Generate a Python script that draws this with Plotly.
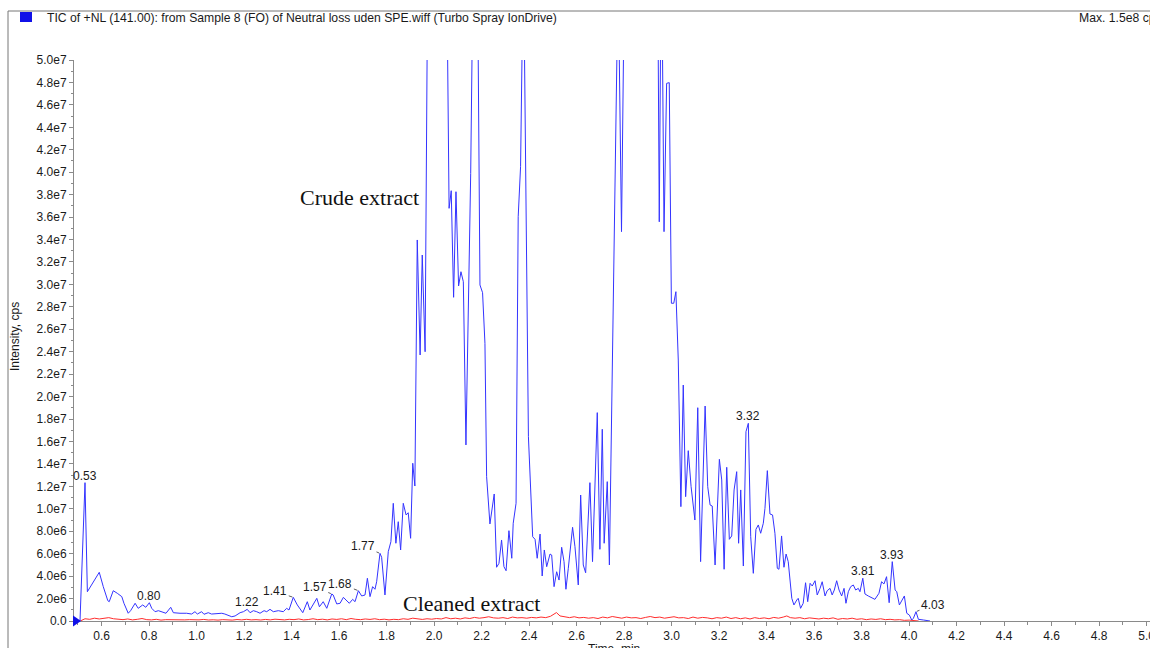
import plotly.graph_objects as go

# ---------------- data (intensity in units of 1e6 cps) ----------------
blue_time = [
    0.509, 0.530, 0.540, 0.590, 0.607, 0.626, 0.632, 0.649, 0.666, 0.685,
    0.694, 0.712, 0.722, 0.741, 0.754, 0.773, 0.786, 0.801, 0.811, 0.825,
    0.839, 0.853, 0.871, 0.891, 0.902, 0.930, 0.958, 0.979, 0.993, 1.003,
    1.021, 1.031, 1.049, 1.063, 1.085, 1.106, 1.119, 1.133, 1.148, 1.162,
    1.183, 1.197, 1.213, 1.225, 1.239, 1.253, 1.267, 1.284, 1.295, 1.309,
    1.323, 1.344, 1.365, 1.379, 1.389, 1.407, 1.424, 1.447, 1.466, 1.477,
    1.491, 1.506, 1.517, 1.533, 1.548, 1.569, 1.575, 1.590, 1.604, 1.618,
    1.629, 1.643, 1.657, 1.667, 1.681, 1.695, 1.709, 1.719, 1.730, 1.741,
    1.751, 1.758, 1.772, 1.779, 1.793, 1.807, 1.818, 1.828, 1.839, 1.849,
    1.859, 1.870, 1.882, 1.891, 1.901, 1.910, 1.919, 1.929, 1.941, 1.950,
    1.962, 1.980, 1.995, 2.010, 2.025, 2.040, 2.051, 2.063, 2.072, 2.082,
    2.092, 2.103, 2.113, 2.123, 2.134, 2.144, 2.154, 2.170, 2.180, 2.193,
    2.204, 2.214, 2.221, 2.235, 2.253, 2.263, 2.273, 2.284, 2.294, 2.303,
    2.315, 2.327, 2.333, 2.345, 2.354, 2.364, 2.376, 2.397, 2.415, 2.425,
    2.434, 2.446, 2.455, 2.464, 2.474, 2.488, 2.495, 2.505, 2.516, 2.526,
    2.537, 2.547, 2.555, 2.565, 2.583, 2.593, 2.607, 2.617, 2.628, 2.638,
    2.656, 2.667, 2.687, 2.698, 2.708, 2.716, 2.729, 2.738, 2.775, 2.789,
    2.800, 2.820, 2.850, 2.870, 2.890, 2.905, 2.920, 2.935, 2.948, 2.957,
    2.968, 2.979, 2.990, 2.999, 3.009, 3.018, 3.028, 3.039, 3.049, 3.059,
    3.070, 3.082, 3.098, 3.110, 3.122, 3.141, 3.152, 3.162, 3.171, 3.183,
    3.201, 3.211, 3.221, 3.232, 3.243, 3.253, 3.263, 3.274, 3.282, 3.291,
    3.302, 3.313, 3.323, 3.333, 3.344, 3.355, 3.365, 3.375, 3.386, 3.393,
    3.403, 3.414, 3.425, 3.435, 3.445, 3.452, 3.463, 3.473, 3.482, 3.491,
    3.506, 3.515, 3.527, 3.533, 3.543, 3.554, 3.564, 3.573, 3.583, 3.592,
    3.604, 3.613, 3.625, 3.634, 3.646, 3.655, 3.667, 3.676, 3.685, 3.695,
    3.705, 3.716, 3.726, 3.734, 3.744, 3.754, 3.765, 3.775, 3.786, 3.793,
    3.805, 3.814, 3.828, 3.842, 3.856, 3.873, 3.884, 3.894, 3.905, 3.916,
    3.929, 3.941, 3.948, 3.959, 3.969, 3.980, 3.990, 4.001, 4.011, 4.018,
    4.029, 4.039, 4.060, 4.088,
]
blue_int = [
    0.00, 12.33, 2.61, 4.34, 3.06, 1.81, 1.72, 2.70, 2.47, 2.17,
    1.58, 0.69, 0.92, 1.58, 1.13, 1.43, 1.22, 1.63, 1.13, 0.83,
    0.92, 0.83, 0.69, 1.22, 0.74, 0.69, 0.69, 0.62, 0.83, 0.62,
    0.83, 0.60, 0.74, 0.62, 0.69, 0.69, 0.62, 0.47, 0.38, 0.45,
    0.74, 0.83, 1.04, 0.74, 0.92, 0.83, 0.69, 0.92, 0.83, 1.04,
    0.83, 0.92, 0.83, 1.13, 0.98, 2.11, 1.43, 0.74, 1.72, 0.98,
    1.43, 2.02, 1.27, 1.72, 1.13, 2.41, 2.32, 1.52, 1.58, 2.11,
    1.87, 1.58, 1.93, 1.72, 2.70, 2.23, 2.32, 3.81, 2.17, 3.06,
    2.83, 3.50, 6.03, 5.68, 2.32, 6.18, 7.07, 10.49, 6.93, 8.85,
    6.33, 10.49, 9.45, 9.65, 7.37, 14.06, 12.03, 33.96, 23.71, 32.62,
    24.00, 80.0, 105.0, 95.0, 88.0, 70.0, 63.4, 36.78, 38.35, 28.85,
    38.26, 29.86, 31.13, 30.24, 15.69, 28.90, 39.90, 70.0, 66.0, 29.95,
    29.26, 24.75, 12.86, 8.65, 11.32, 4.79, 5.14, 7.22, 4.84, 4.48,
    8.05, 5.59, 8.71, 10.49, 36.03, 40.49, 60.0, 16.43, 7.51, 7.28,
    5.59, 7.75, 4.01, 6.33, 4.84, 5.97, 5.88, 3.06, 4.39, 3.65,
    6.57, 5.29, 2.83, 4.70, 8.35, 6.62, 3.21, 11.23, 4.99, 4.30,
    12.33, 5.29, 18.57, 6.39, 17.09, 6.93, 12.42, 4.99, 58.0, 34.70,
    90.0, 120.0, 150.0, 135.0, 110.0, 95.0, 82.0, 80.0, 35.58, 62.0,
    34.70, 47.92, 47.98, 28.32, 28.32, 29.35, 23.26, 10.19, 21.03, 11.08,
    15.18, 11.97, 9.00, 19.01, 5.29, 19.16, 11.97, 10.34, 10.25, 4.99,
    14.41, 12.57, 4.61, 13.70, 7.28, 7.58, 11.68, 13.31, 6.93, 11.68,
    4.90, 16.87, 17.62, 7.51, 4.25, 8.17, 8.56, 7.82, 8.71, 10.04,
    13.40, 9.54, 9.45, 7.82, 4.70, 4.61, 7.58, 4.79, 5.97, 5.29,
    2.02, 1.43, 1.87, 2.02, 1.13, 1.58, 3.41, 1.72, 3.36, 3.12,
    3.59, 2.32, 2.91, 3.50, 2.23, 2.70, 2.91, 2.32, 2.76, 3.59,
    2.76, 2.23, 2.91, 1.58, 2.61, 3.06, 3.21, 2.76, 2.91, 2.61,
    3.81, 2.41, 2.23, 2.11, 1.93, 2.47, 3.50, 3.30, 3.95, 1.63,
    5.29, 2.76, 2.61, 1.43, 1.81, 2.23, 0.69, 0.53, 0.09, 0.24,
    0.83, 0.15, 0.09, 0.00,
]

red_time = [
    0.51, 0.53, 0.55, 0.57, 0.59, 0.61, 0.63, 0.65, 0.67, 0.69,
    0.71, 0.73, 0.75, 0.77, 0.79, 0.81, 0.83, 0.85, 0.87, 0.89,
    0.91, 0.93, 0.95, 0.97, 0.99, 1.01, 1.03, 1.05, 1.07, 1.09,
    1.11, 1.13, 1.15, 1.17, 1.19, 1.21, 1.23, 1.25, 1.27, 1.29,
    1.31, 1.33, 1.35, 1.37, 1.39, 1.41, 1.43, 1.45, 1.47, 1.49,
    1.51, 1.53, 1.55, 1.57, 1.59, 1.61, 1.63, 1.65, 1.67, 1.69,
    1.71, 1.73, 1.75, 1.77, 1.79, 1.81, 1.83, 1.85, 1.87, 1.89,
    1.91, 1.93, 1.95, 1.97, 1.99, 2.01, 2.03, 2.05, 2.07, 2.09,
    2.11, 2.13, 2.15, 2.17, 2.19, 2.21, 2.23, 2.25, 2.27, 2.29,
    2.31, 2.33, 2.35, 2.37, 2.39, 2.41, 2.43, 2.45, 2.47, 2.49,
    2.50, 2.515, 2.53, 2.55, 2.57, 2.59, 2.61, 2.63, 2.65, 2.67,
    2.69, 2.71, 2.73, 2.75, 2.77, 2.79, 2.81, 2.83, 2.85, 2.87,
    2.89, 2.91, 2.93, 2.95, 2.97, 2.99, 3.01, 3.03, 3.05, 3.07,
    3.09, 3.11, 3.13, 3.15, 3.17, 3.19, 3.21, 3.23, 3.25, 3.27,
    3.29, 3.31, 3.33, 3.35, 3.37, 3.39, 3.41, 3.43, 3.45, 3.47,
    3.485, 3.50, 3.52, 3.54, 3.56, 3.58, 3.60, 3.62, 3.64, 3.66,
    3.68, 3.70, 3.72, 3.74, 3.76, 3.78, 3.80, 3.82, 3.84, 3.86,
    3.88, 3.90, 3.92, 3.94, 3.96, 3.98, 4.00, 4.02, 4.04,
]
red_int = [
    0.00, 0.20, 0.15, 0.25, 0.18, 0.22, 0.30, 0.20, 0.15, 0.12,
    0.18, 0.10, 0.15, 0.22, 0.12, 0.10, 0.15, 0.08, 0.12, 0.10,
    0.14, 0.08, 0.10, 0.12, 0.08, 0.10, 0.14, 0.09, 0.11, 0.08,
    0.12, 0.10, 0.08, 0.13, 0.10, 0.15, 0.10, 0.12, 0.09, 0.14,
    0.10, 0.16, 0.12, 0.10, 0.15, 0.12, 0.18, 0.10, 0.13, 0.20,
    0.12, 0.16, 0.10, 0.18, 0.14, 0.20, 0.12, 0.22, 0.15, 0.12,
    0.18, 0.14, 0.20, 0.12, 0.16, 0.10, 0.15, 0.12, 0.20, 0.15,
    0.25, 0.18, 0.14, 0.20, 0.16, 0.22, 0.18, 0.30, 0.20, 0.25,
    0.18, 0.28, 0.22, 0.32, 0.25, 0.30, 0.38, 0.28, 0.25, 0.30,
    0.22, 0.35, 0.28, 0.30, 0.25, 0.32, 0.28, 0.35, 0.30, 0.42,
    0.55, 0.75, 0.45, 0.35, 0.30, 0.38, 0.28, 0.32, 0.25, 0.30,
    0.22, 0.35, 0.28, 0.40, 0.30, 0.25, 0.35, 0.28, 0.30, 0.22,
    0.32, 0.40, 0.30, 0.35, 0.25, 0.30, 0.38, 0.28, 0.30, 0.22,
    0.35, 0.25, 0.32, 0.28, 0.20, 0.30, 0.25, 0.35, 0.22, 0.30,
    0.20, 0.28, 0.18, 0.30, 0.22, 0.28, 0.20, 0.32, 0.25, 0.35,
    0.45, 0.30, 0.25, 0.30, 0.20, 0.28, 0.22, 0.18, 0.25, 0.20,
    0.28, 0.15, 0.22, 0.18, 0.25, 0.15, 0.20, 0.12, 0.18, 0.14,
    0.20, 0.12, 0.15, 0.10, 0.12, 0.06, 0.08, 0.03, 0.00,
]

peak_labels = ["0.53", "0.80", "1.22", "1.41", "1.57", "1.68", "1.77",
               "3.32", "3.81", "3.93", "4.03"]
# label offsets in pixels (dx, dy); leader line drawn when leader is True
peak_offsets = [(0, -7), (0, -7), (0, -7), (-18, -6), (-17, -7), (-18, -7),
                (-17, -7), (0, -7), (0, -7), (0, -7), (17, -7)]
peak_leader = [False, False, False, True, True, True, True,
               False, False, False, True]

y_tickvals = [i * 2e6 for i in range(26)]
y_ticktext = ["0.0", "2.0e6", "4.0e6", "6.0e6", "8.0e6", "1.0e7", "1.2e7",
              "1.4e7", "1.6e7", "1.8e7", "2.0e7", "2.2e7", "2.4e7", "2.6e7",
              "2.8e7", "3.0e7", "3.2e7", "3.4e7", "3.6e7", "3.8e7", "4.0e7",
              "4.2e7", "4.4e7", "4.6e7", "4.8e7", "5.0e7"]

header_text = "TIC of +NL (141.00): from Sample 8 (FO) of Neutral loss uden SPE.wiff (Turbo Spray IonDrive)"
max_text = "Max. 1.5e8 cps"

# ---------------- layout geometry ----------------
W, H = 1150, 648
ML, MR, MT, MB = 74, 0, 60, 27
PW, PH = W - ML - MR, H - MT - MB


def px2x(px):
    return (px - ML) / PW


def py2y(py):
    return (H - MB - py) / PH


SANS = "Liberation Sans, Arial, sans-serif"
SERIF = "Liberation Serif, Times New Roman, serif"
AX = "#8a8a8a"
TXT = "#1a1a1a"

fig = go.Figure()
fig.add_trace(go.Scatter(x=red_time, y=[v * 1e6 for v in red_int], mode="lines",
                         line=dict(color="#ff2d2d", width=1), hoverinfo="skip"))
fig.add_trace(go.Scatter(x=blue_time, y=[v * 1e6 for v in blue_int], mode="lines",
                         line=dict(color="#3434ff", width=1), hoverinfo="skip"))

annotations = []
for lab, (dx, dy), lead in zip(peak_labels, peak_offsets, peak_leader):
    t0 = float(lab)
    cand = [(v, t) for t, v in zip(blue_time, blue_int) if abs(t - t0) <= 0.015]
    v, t = max(cand)
    if lead:
        annotations.append(dict(x=t, y=v * 1e6, xref="x", yref="y", text=lab,
                                showarrow=True, arrowhead=0, arrowwidth=0.8,
                                arrowcolor="#333", ax=dx, ay=dy, standoff=1,
                                font=dict(family=SANS, size=12, color=TXT)))
    else:
        annotations.append(dict(x=t, y=v * 1e6, xref="x", yref="y", text=lab,
                                showarrow=False, xanchor="center", yanchor="middle",
                                xshift=dx, yshift=-dy,
                                font=dict(family=SANS, size=12, color=TXT)))

annotations += [
    dict(x=px2x(359), y=py2y(197), xref="paper", yref="paper", text="Crude extract",
         showarrow=False, xanchor="center", yanchor="middle",
         font=dict(family=SERIF, size=22, color="#111")),
    dict(x=px2x(471), y=py2y(603), xref="paper", yref="paper", text="Cleaned extract",
         showarrow=False, xanchor="center", yanchor="middle",
         font=dict(family=SERIF, size=22, color="#111")),
    dict(x=px2x(45), y=py2y(18), xref="paper", yref="paper", text=header_text,
         showarrow=False, xanchor="left", yanchor="middle",
         font=dict(family=SANS, size=12.2, color=TXT)),
    dict(x=px2x(1077), y=py2y(18), xref="paper", yref="paper", text=max_text,
         showarrow=False, xanchor="left", yanchor="middle",
         font=dict(family=SANS, size=12.2, color=TXT)),
    dict(x=px2x(15), y=py2y(337), xref="paper", yref="paper", text="Intensity, cps",
         showarrow=False, textangle=-90, xanchor="center", yanchor="middle",
         font=dict(family=SANS, size=12, color=TXT)),
    dict(x=px2x(614), y=py2y(640), xref="paper", yref="paper", text="Time, min",
         showarrow=False, xanchor="center", yanchor="top",
         font=dict(family=SANS, size=12, color=TXT)),
]

shapes = [
    dict(type="line", xref="paper", yref="paper", x0=px2x(8), x1=px2x(1152),
         y0=py2y(11), y1=py2y(11), line=dict(color="#777", width=1)),
    dict(type="line", xref="paper", yref="paper", x0=px2x(8), x1=px2x(8),
         y0=py2y(11), y1=py2y(650), line=dict(color="#777", width=1)),
    dict(type="rect", xref="paper", yref="paper", x0=px2x(20), x1=px2x(32),
         y0=py2y(22), y1=py2y(12), fillcolor="#1010e8", line=dict(width=0)),
    dict(type="path", xref="paper", yref="paper",
         path=f"M {px2x(73)} {py2y(615.5)} L {px2x(81)} {py2y(621)} L {px2x(73)} {py2y(626.5)} Z",
         fillcolor="#1010e8", line=dict(width=0)),
]

fig.update_layout(
    width=W, height=H, autosize=False,
    margin=dict(l=ML, r=MR, t=MT, b=MB, pad=0, autoexpand=False),
    plot_bgcolor="white", paper_bgcolor="white",
    showlegend=False,
    annotations=annotations,
    shapes=shapes,
    xaxis=dict(range=[0.4837, 0.4837 + PW / 237.5], showgrid=False, zeroline=False,
               automargin=False,
               showline=True, linecolor=AX, linewidth=1,
               ticks="outside", ticklen=4, tickcolor=AX, tickwidth=1,
               tick0=0, dtick=0.2, tickformat=".1f", ticklabeloverflow="allow",
               tickfont=dict(family=SANS, size=12, color=TXT),
               minor=dict(tick0=0, dtick=0.1, ticks="outside", ticklen=3,
                          tickcolor=AX, showgrid=False)),
    yaxis=dict(range=[0, 5e7], showgrid=False, zeroline=False,
               automargin=False,
               showline=True, linecolor=AX, linewidth=1,
               ticks="outside", ticklen=4, tickcolor=AX, tickwidth=1,
               tickmode="array", tickvals=y_tickvals, ticktext=y_ticktext,
               tickfont=dict(family=SANS, size=12, color=TXT),
               minor=dict(tickmode="linear", tick0=0, dtick=1e6, ticks="outside",
                          ticklen=2, tickcolor=AX, showgrid=False)),
)

fig.write_html("out.html")
